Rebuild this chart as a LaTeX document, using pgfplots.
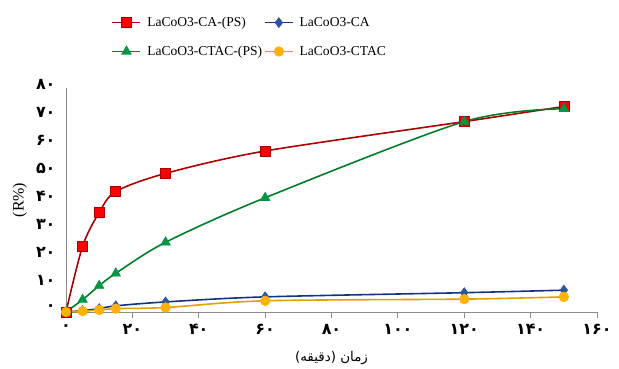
\documentclass[border=0pt]{standalone}
\usepackage{fontspec}
\usepackage{pgfplots}
\pgfplotsset{compat=1.18}
\setmainfont{Liberation Serif}
\newfontfamily\arabicfont[Script=Arabic]{DejaVu Sans}
\newfontfamily\fadig{DejaVu Sans}
\TeXXeTstate=1
\definecolor{redL}{RGB}{170,0,0}
\definecolor{redM}{RGB}{255,0,0}
\definecolor{blueL}{RGB}{20,50,130}
\definecolor{blueM}{RGB}{45,85,155}
\definecolor{greenL}{RGB}{0,125,40}
\definecolor{greenM}{RGB}{0,150,70}
\definecolor{orangeL}{RGB}{225,160,0}
\definecolor{orangeM}{RGB}{255,178,0}
\definecolor{axgray}{RGB}{140,140,140}
\begin{document}
\begin{tikzpicture}
\useasboundingbox (0,0) rectangle (619bp,369bp);
\begin{axis}[
  at={(66bp,57bp)}, anchor=south west,
  width=531bp, height=224bp, scale only axis,
  xmin=0, xmax=160, ymin=0, ymax=80,
  axis x line=bottom, axis y line=left,
  axis line style={-, draw=axgray, line width=0.9pt},
  xtick={0,20,...,160},
  xticklabels={۰,۲۰,۴۰,۶۰,۸۰,۱۰۰,۱۲۰,۱۴۰,۱۶۰},
  ytick={0,10,...,80},
  yticklabels={۰,۱۰,۲۰,۳۰,۴۰,۵۰,۶۰,۷۰,۸۰},
  tick label style={font=\fadig\bfseries\fontsize{16}{18}\selectfont},
  tick align=outside,
  x tick style={draw=axgray, line width=0.9pt},
  major tick length=6bp,
  y tick style={draw=none},
  xticklabel style={yshift=-3bp},
  yticklabel style={xshift=-1bp, yshift=4bp},
  clip=false,
  xlabel={\arabicfont\fontsize{13.5}{15}\selectfont\beginR زمان (دقیقه)\endR},
  xlabel style={at={(axis description cs:0.5,-0.205)}, anchor=center},
  ylabel={\fontsize{16}{18}\selectfont (R\%)},
  ylabel style={at={(axis description cs:-0.087,0.5)}, anchor=center, rotate=0},
  legend columns=2,
  legend cell align=left,
  legend style={at={(axis description cs:0.08,1.335)}, anchor=north west,
    draw=none, fill=none, font=\fontsize{13.6}{16}\selectfont,
    /tikz/every odd column/.append style={column sep=4bp},
    row sep=14bp},
  legend image code/.code={\draw[mark repeat=2,mark phase=2] plot coordinates {(0bp,0bp) (14bp,0bp) (28bp,0bp)};},
  every axis plot/.append style={line width=1.6pt, smooth, tension=0.5},
]
\addplot[color=redL, mark=square*, mark size=5bp, mark options={fill=redM, draw=redL, line width=0.6pt}]
  coordinates {(0,0) (5,23.5) (10,35.5) (15,43) (30,49.5) (60,57.5) (120,68) (150,73.4)};
\addlegendentry{LaCoO3-CA-(PS)}
\addplot[color=blueL, mark=diamond*, mark size=5bp, mark options={fill=blueM, draw=blueM, line width=0.6pt}]
  coordinates {(0,0) (5,0.5) (10,1.2) (15,2.2) (30,3.6) (60,5.4) (120,6.9) (150,7.8)};
\addlegendentry{LaCoO3-CA}
\addplot[color=greenL, mark=triangle*, mark size=5.5bp, mark options={fill=greenM, draw=greenM, line width=0.6pt}]
  coordinates {(0,0) (5,4.4) (10,9.4) (15,13.8) (30,24.9) (60,40.8) (120,68) (150,72.6)};
\addlegendentry{LaCoO3-CTAC-(PS)}
\addplot[color=orangeL, mark=*, mark size=4.8bp, mark options={fill=orangeM, draw=orangeM, line width=0.6pt}]
  coordinates {(0,0) (5,0.3) (10,0.7) (15,1.2) (30,1.6) (60,4) (120,4.6) (150,5.4)};
\addlegendentry{LaCoO3-CTAC}
\end{axis}
\end{tikzpicture}
\end{document}
